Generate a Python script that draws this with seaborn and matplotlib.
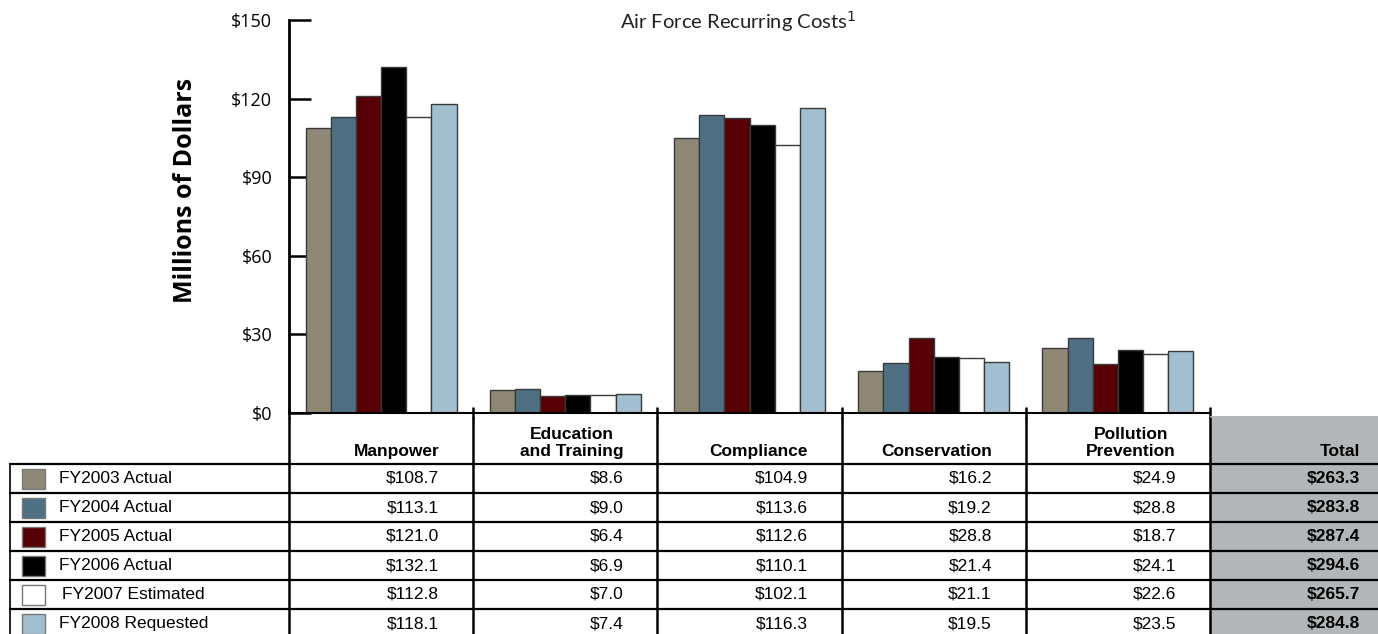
import pandas as pd
import matplotlib.pyplot as plt
import seaborn as sns
from matplotlib.patches import Rectangle

categories = ["Manpower", "Education\nand Training", "Compliance", "Conservation", "Pollution\nPrevention"]
years = ["FY2003 Actual", "FY2004 Actual", "FY2005 Actual", "FY2006 Actual", "FY2007 Estimated", "FY2008 Requested"]
colors = ["#8f8877", "#4f7082", "#560006", "#000000", "#ffffff", "#a2bfd0"]

manpower = [108.7, 113.1, 121.0, 132.1, 112.8, 118.1]
education = [8.6, 9.0, 6.4, 6.9, 7.0, 7.4]
compliance = [104.9, 113.6, 112.6, 110.1, 102.1, 116.3]
conservation = [16.2, 19.2, 28.8, 21.4, 21.1, 19.5]
pollution = [24.9, 28.8, 18.7, 24.1, 22.6, 23.5]
totals = [263.3, 283.8, 287.4, 294.6, 265.7, 284.8]

series = [manpower, education, compliance, conservation, pollution]

rows = []
for cat, vals in zip(categories, series):
    for yr, v in zip(years, vals):
        rows.append({"Category": cat, "Year": yr, "Value": v})
df = pd.DataFrame(rows)

sns.set_style("white")
plt.rcParams["font.family"] = ["Open Sans", "DejaVu Sans"]
plt.rcParams["text.color"] = "black"
plt.rcParams["ytick.color"] = "black"
plt.rcParams["xtick.color"] = "black"

W, H = 1378, 634
fig = plt.figure(figsize=(W / 100, H / 100), dpi=100)

x0, x1, ytop, ybase = 289, 1210, 20, 413
ax = fig.add_axes([x0 / W, 1 - ybase / H, (x1 - x0) / W, (ybase - ytop) / H])
sns.barplot(data=df, x="Category", y="Value", hue="Year", palette=colors,
            hue_order=years, order=categories, width=0.82, saturation=1,
            edgecolor="#3a3a3a", linewidth=1, legend=False, ax=ax)
ax.set_xlim(-0.5, 4.5)
ax.set_ylim(0, 150)
ax.set_yticks(range(0, 151, 30))
ax.set_yticklabels([f"${v}" for v in range(0, 151, 30)], fontsize=13)
ax.set_xticks([])
ax.set_xticks([i - 0.5 for i in range(6)], minor=True)
ax.tick_params(axis="y", direction="in", length=16, width=1.8, pad=12, left=True)
ax.tick_params(axis="x", which="minor", direction="inout", length=9, width=1.8, bottom=True)
ax.set_xlabel("")
ax.set_ylabel("")
for s in ["top", "right"]:
    ax.spines[s].set_visible(False)
ax.spines["left"].set_linewidth(2)
ax.spines["bottom"].set_linewidth(1.5)
ax.spines["left"].set_color("black")
ax.spines["bottom"].set_color("black")

fig.text(185 / W, 1 - 190 / H, "Millions of Dollars", rotation=90, ha="center", va="center",
         fontsize=18, fontweight="bold")
fig.text(738 / W, 1 - 22 / H, "Air Force Recurring Costs$^{1}$", ha="center", va="center",
         fontsize=14.5, family=["Lato", "DejaVu Sans"], color="#222222")

# table below the chart
ov = fig.add_axes([0, 0, 1, 1])
ov.set_xlim(0, W)
ov.set_ylim(H, 0)
ov.axis("off")

tf = ["Liberation Sans", "DejaVu Sans"]
fs = 12.5
bounds = [x0 + i * (x1 - x0) / 5 for i in range(6)]
ov.add_patch(Rectangle((x1, 416), W - x1, H - 416, facecolor="#b3b6b8", edgecolor="none"))
row_top = 464
row_h = 29
for i in range(len(years)):
    y = row_top + i * row_h
    ov.plot([10, W], [y, y], color="black", lw=1.6)
for bx in bounds:
    ov.plot([bx, bx], [418, H], color="black", lw=1.8)
ov.plot([10, 10], [row_top, H], color="black", lw=1.2)

for j, cat in enumerate(categories):
    ov.text(bounds[j + 1] - 34, 459, cat, ha="right", va="bottom", fontsize=fs,
            fontweight="bold", family=tf, multialignment="center")
ov.text(W - 18, 459, "Total", ha="right", va="bottom", fontsize=fs, fontweight="bold", family=tf)

for i, yr in enumerate(years):
    yc = row_top + i * row_h + row_h / 2
    ov.add_patch(Rectangle((22, yc - 10), 23, 20, facecolor=colors[i], edgecolor="#777777", lw=1))
    ov.text(62 if "Estimated" in yr else 59, yc, yr, ha="left", va="center", fontsize=fs, family=tf)
    for j, vals in enumerate(series):
        ov.text(bounds[j + 1] - 34, yc, f"${vals[i]:.1f}", ha="right", va="center",
                fontsize=fs, family=tf)
    ov.text(W - 18, yc, f"${totals[i]:.1f}", ha="right", va="center", fontsize=fs,
            fontweight="bold", family=tf)

fig.savefig("out.png", dpi=100)
